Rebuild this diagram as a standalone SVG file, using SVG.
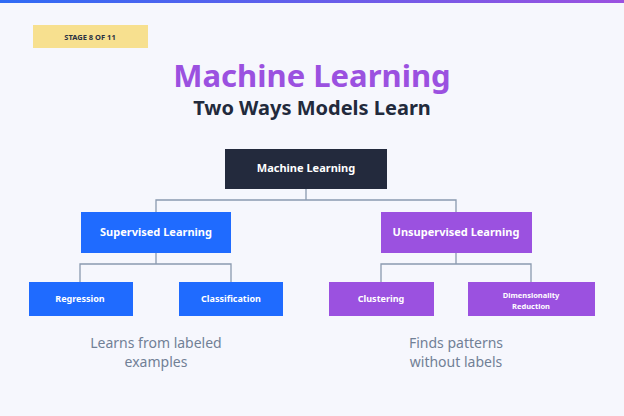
<svg xmlns="http://www.w3.org/2000/svg" width="624" height="416" viewBox="0 0 624 416">
<defs><linearGradient id="g" x1="0" x2="1"><stop offset="0" stop-color="#2f6bf5"/><stop offset="1" stop-color="#9b51e0"/></linearGradient></defs>
<style>
text{font-family:"Noto Sans","Open Sans",sans-serif;text-anchor:middle}
.w{fill:#fff;font-weight:bold}
.b{fill:#1f6bff}.p{fill:#9b51e0}
.c{fill:none;stroke:#8a9ab0;stroke-width:1.3}
.cap{fill:#718096;font-size:14px}
</style>
<rect width="624" height="416" fill="#f6f7fd"/>
<rect width="624" height="3" fill="url(#g)"/>
<rect x="33" y="25" width="115" height="23" fill="#f7e08f"/>
<text x="90" y="40" font-size="7.5" font-weight="bold" fill="#2a3042">STAGE 8 OF 11</text>
<text x="312" y="87" font-size="31" font-weight="bold" fill="#9b51e0">Machine Learning</text>
<text x="312" y="115" font-size="20" font-weight="bold" fill="#222a3c">Two Ways Models Learn</text>
<g id="connectors" class="c">
<path d="M306 189V200M156 212V200H456V212"/>
<path d="M156 253V264M80 282V264H231V282"/>
<path d="M456 253V264M381 282V264H531V282"/>
</g>
<g id="ml"><rect x="225" y="149" width="162" height="40" fill="#232a3d"/><text class="w" x="306" y="172" font-size="11">Machine Learning</text></g>
<g id="sup"><rect class="b" x="81" y="212" width="150" height="41"/><text class="w" x="156" y="236" font-size="11">Supervised Learning</text></g>
<g id="unsup"><rect class="p" x="381" y="212" width="151" height="41"/><text class="w" x="456" y="236" font-size="11">Unsupervised Learning</text></g>
<g id="reg"><rect class="b" x="29" y="282" width="104" height="34"/><text class="w" x="80" y="302" font-size="9">Regression</text></g>
<g id="cls"><rect class="b" x="179" y="282" width="104" height="34"/><text class="w" x="231" y="302" font-size="9">Classification</text></g>
<g id="clu"><rect class="p" x="329" y="282" width="105" height="34"/><text class="w" x="381" y="302" font-size="9">Clustering</text></g>
<g id="dim"><rect class="p" x="468" y="282" width="127" height="34"/><text class="w" x="531" y="298" font-size="7.5">Dimensionality</text><text class="w" x="531" y="309" font-size="7.5">Reduction</text></g>
<text class="cap" x="156" y="348">Learns from labeled</text>
<text class="cap" x="156" y="367">examples</text>
<text class="cap" x="456" y="348">Finds patterns</text>
<text class="cap" x="456" y="367">without labels</text>
</svg>
